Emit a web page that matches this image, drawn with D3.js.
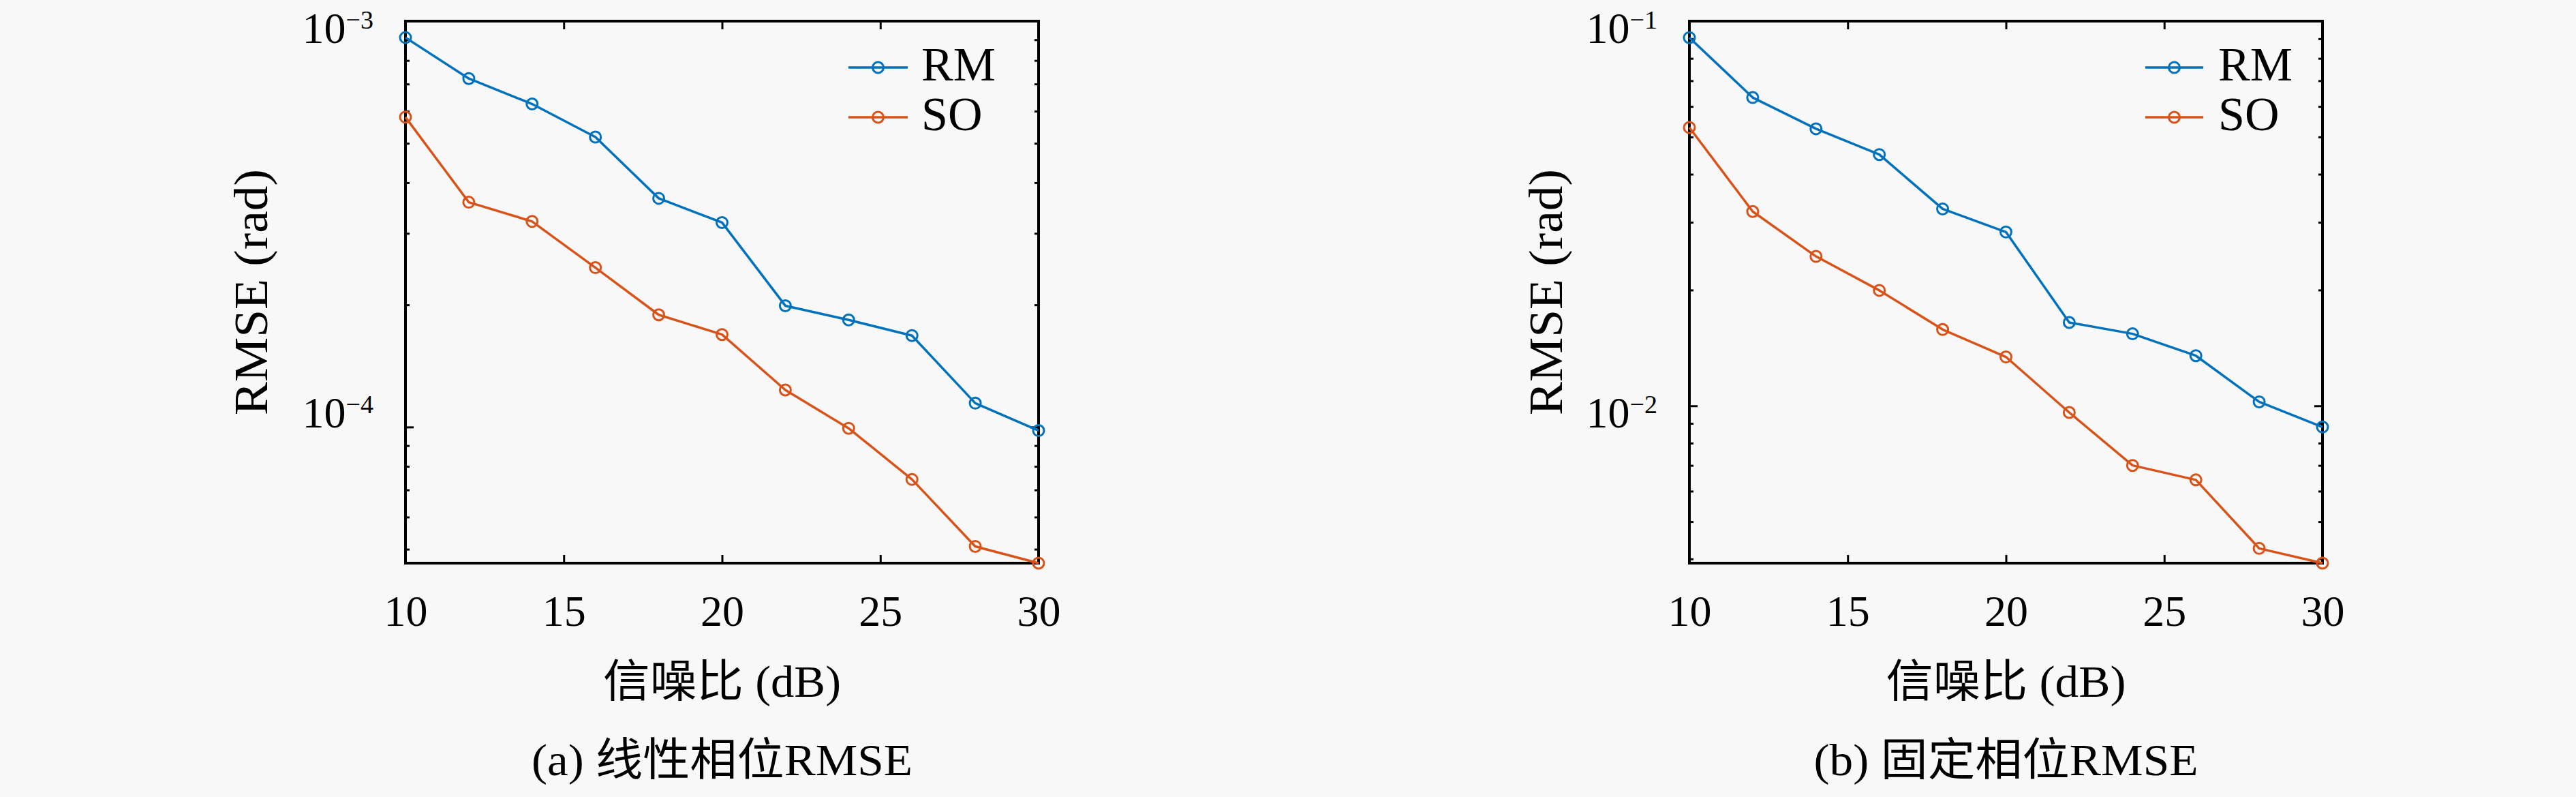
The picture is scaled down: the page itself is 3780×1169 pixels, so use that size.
<!DOCTYPE html>
<html>
<head>
<meta charset="utf-8">
<script src="https://cdn.jsdelivr.net/npm/d3@7"></script>
<style>
  html, body { margin: 0; padding: 0; background: #f8f8f8; }
  svg { display: block; }
  text { font-family: 'Liberation Serif', 'Noto Sans CJK SC', serif; fill: #000; }
</style>
</head>
<body>
<svg id="chart" width="3780" height="1169"></svg>
<script>
// ---------------- data ----------------
const snr = [10, 12, 14, 16, 18, 20, 22, 24, 26, 28, 30];
const xTicks = [10, 15, 20, 25, 30];
const seriesNames = ["RM", "SO"];

// (a) linear phase RMSE
const rmLinear = [9.11e-4, 7.22e-4, 6.25e-4, 5.18e-4, 3.66e-4, 3.19e-4, 1.99e-4, 1.836e-4, 1.68e-4, 1.145e-4, 9.8e-5];
const soLinear = [5.80e-4, 3.58e-4, 3.21e-4, 2.47e-4, 1.89e-4, 1.69e-4, 1.234e-4, 9.93e-5, 7.43e-5, 5.08e-5, 4.62e-5];
const yDomainLinear = [4.62e-5, 1e-3];
const yTicksLinear = [1e-4, 1e-3];
const yTickExpLinear = ["\u22124", "\u22123"];

// (b) fixed phase RMSE
const rmFixed = [0.0906, 0.0633, 0.0525, 0.0450, 0.0325, 0.0283, 0.01647, 0.01539, 0.0135, 0.01024, 0.00881];
const soFixed = [0.0529, 0.0320, 0.02446, 0.01996, 0.01579, 0.0134, 0.00961, 0.0070, 0.00642, 0.00426, 0.0039];
const yDomainFixed = [3.9e-3, 1e-1];
const yTicksFixed = [1e-2, 1e-1];
const yTickExpFixed = ["\u22122", "\u22121"];

const xLabel = "信噪比 (dB)";
const yLabel = "RMSE (rad)";
const captions = ["(a) 线性相位RMSE", "(b) 固定相位RMSE"];

// ---------------- style / layout ----------------
const colors = ["#0072BD", "#D95319"];
const plotTop = 31, plotBottom = 826;

const panels = [
  { left: 595, right: 1524, series: [rmLinear, soLinear], domain: yDomainLinear,
    yTicks: yTicksLinear, yExp: yTickExpLinear, labelDy: [1, 32],
    legendLine: [-279, -192], legendText: -172, yLabelX: 392,
    xLabelLen: 349, capLen: 559, caption: captions[0] },
  { left: 2479, right: 3408, series: [rmFixed, soFixed], domain: yDomainFixed,
    yTicks: yTicksFixed, yExp: yTickExpFixed, labelDy: [32, 32],
    legendLine: [-260, -175], legendText: -153, yLabelX: 2292,
    xLabelLen: 352, capLen: 564, caption: captions[1] }
];

const svg = d3.select("#chart");

panels.forEach(p => {
  const x = d3.scaleLinear().domain([10, 30]).range([p.left, p.right]);
  const y = d3.scaleLog().domain(p.domain).range([plotBottom, plotTop]);
  const g = svg.append("g");

  // x axis ticks (bottom with labels, top inward)
  const xb = g.append("g").attr("transform", `translate(0,${plotBottom})`)
    .call(d3.axisBottom(x).tickValues(xTicks).tickSizeInner(-12).tickSizeOuter(0).tickFormat(d3.format("d")));
  xb.select(".domain").remove();
  xb.selectAll(".tick line").attr("stroke", "#000").attr("stroke-width", 3);
  xb.selectAll(".tick text").attr("y", 918 - plotBottom).attr("dy", 0)
    .attr("font-size", 64).attr("font-family", "'Liberation Serif', serif").attr("fill", "#000");

  const xt = g.append("g").attr("transform", `translate(0,${plotTop})`)
    .call(d3.axisTop(x).tickValues(xTicks).tickSizeInner(-12).tickSizeOuter(0).tickFormat(""));
  xt.select(".domain").remove();
  xt.selectAll(".tick line").attr("stroke", "#000").attr("stroke-width", 3);

  // y axis ticks: majors and minors on left and right
  const allY = y.ticks().filter(v => v >= p.domain[0] * 0.9999 && v <= p.domain[1] * 1.0001);
  const isMajor = v => Math.abs(Math.log10(v) - Math.round(Math.log10(v))) < 1e-9;
  const yl = g.append("g").attr("transform", `translate(${p.left},0)`)
    .call(d3.axisLeft(y).tickValues(allY).tickSizeOuter(0).tickFormat(""));
  yl.select(".domain").remove();
  yl.selectAll(".tick line").attr("stroke", "#000").attr("stroke-width", 3)
    .attr("x2", d => isMajor(d) ? 12 : 6);
  const yr = g.append("g").attr("transform", `translate(${p.right},0)`)
    .call(d3.axisRight(y).tickValues(allY).tickSizeOuter(0).tickFormat(""));
  yr.select(".domain").remove();
  yr.selectAll(".tick line").attr("stroke", "#000").attr("stroke-width", 3)
    .attr("x2", d => isMajor(d) ? -12 : -6);

  // y tick labels 10^n
  p.yTicks.forEach((v, i) => {
    const t = g.append("text")
      .attr("x", p.left - 47)
      .attr("y", y(v) + p.labelDy[i])
      .attr("text-anchor", "end")
      .attr("font-size", 64)
      .attr("font-family", "'Liberation Serif', serif");
    t.append("tspan").text("10");
    t.append("tspan").attr("font-size", 38).attr("dy", -21).text(p.yExp[i]);
  });

  // box
  g.append("rect")
    .attr("x", p.left).attr("y", plotTop)
    .attr("width", p.right - p.left).attr("height", plotBottom - plotTop)
    .attr("fill", "none").attr("stroke", "#000").attr("stroke-width", 4);

  // series
  const line = d3.line().x((d, i) => x(snr[i])).y(d => y(d));
  p.series.forEach((vals, si) => {
    g.append("path").datum(vals)
      .attr("d", line)
      .attr("fill", "none").attr("stroke", colors[si]).attr("stroke-width", 3.5)
      .attr("stroke-linejoin", "round");
    g.selectAll(null).data(vals).enter().append("circle")
      .attr("cx", (d, i) => x(snr[i])).attr("cy", d => y(d)).attr("r", 8)
      .attr("fill", "none").attr("stroke", colors[si]).attr("stroke-width", 3);
  });

  // legend
  const legendRows = [99, 172];
  seriesNames.forEach((name, si) => {
    const ly = legendRows[si];
    const x1 = p.right + p.legendLine[0], x2 = p.right + p.legendLine[1];
    g.append("line").attr("x1", x1).attr("x2", x2).attr("y1", ly).attr("y2", ly)
      .attr("stroke", colors[si]).attr("stroke-width", 3.5);
    g.append("circle").attr("cx", (x1 + x2) / 2).attr("cy", ly).attr("r", 8)
      .attr("fill", "none").attr("stroke", colors[si]).attr("stroke-width", 3);
    g.append("text").attr("x", p.right + p.legendText).attr("y", ly + 19)
      .attr("font-size", 70).text(name);
  });

  // axis labels
  const cx = (p.left + p.right) / 2, cy = (plotTop + plotBottom) / 2;
  g.append("text").attr("x", cx).attr("y", 1022).attr("text-anchor", "middle")
    .attr("font-size", 66).attr("textLength", p.xLabelLen).attr("lengthAdjust", "spacingAndGlyphs")
    .text(xLabel);
  g.append("text").attr("transform", `translate(${p.yLabelX},${cy}) rotate(-90)`)
    .attr("text-anchor", "middle").attr("font-size", 70)
    .attr("textLength", 361).attr("lengthAdjust", "spacingAndGlyphs")
    .text(yLabel);

  // caption
  g.append("text").attr("x", cx).attr("y", 1137).attr("text-anchor", "middle")
    .attr("font-size", 66).attr("textLength", p.capLen).attr("lengthAdjust", "spacingAndGlyphs")
    .text(p.caption);
});
</script>
</body>
</html>
